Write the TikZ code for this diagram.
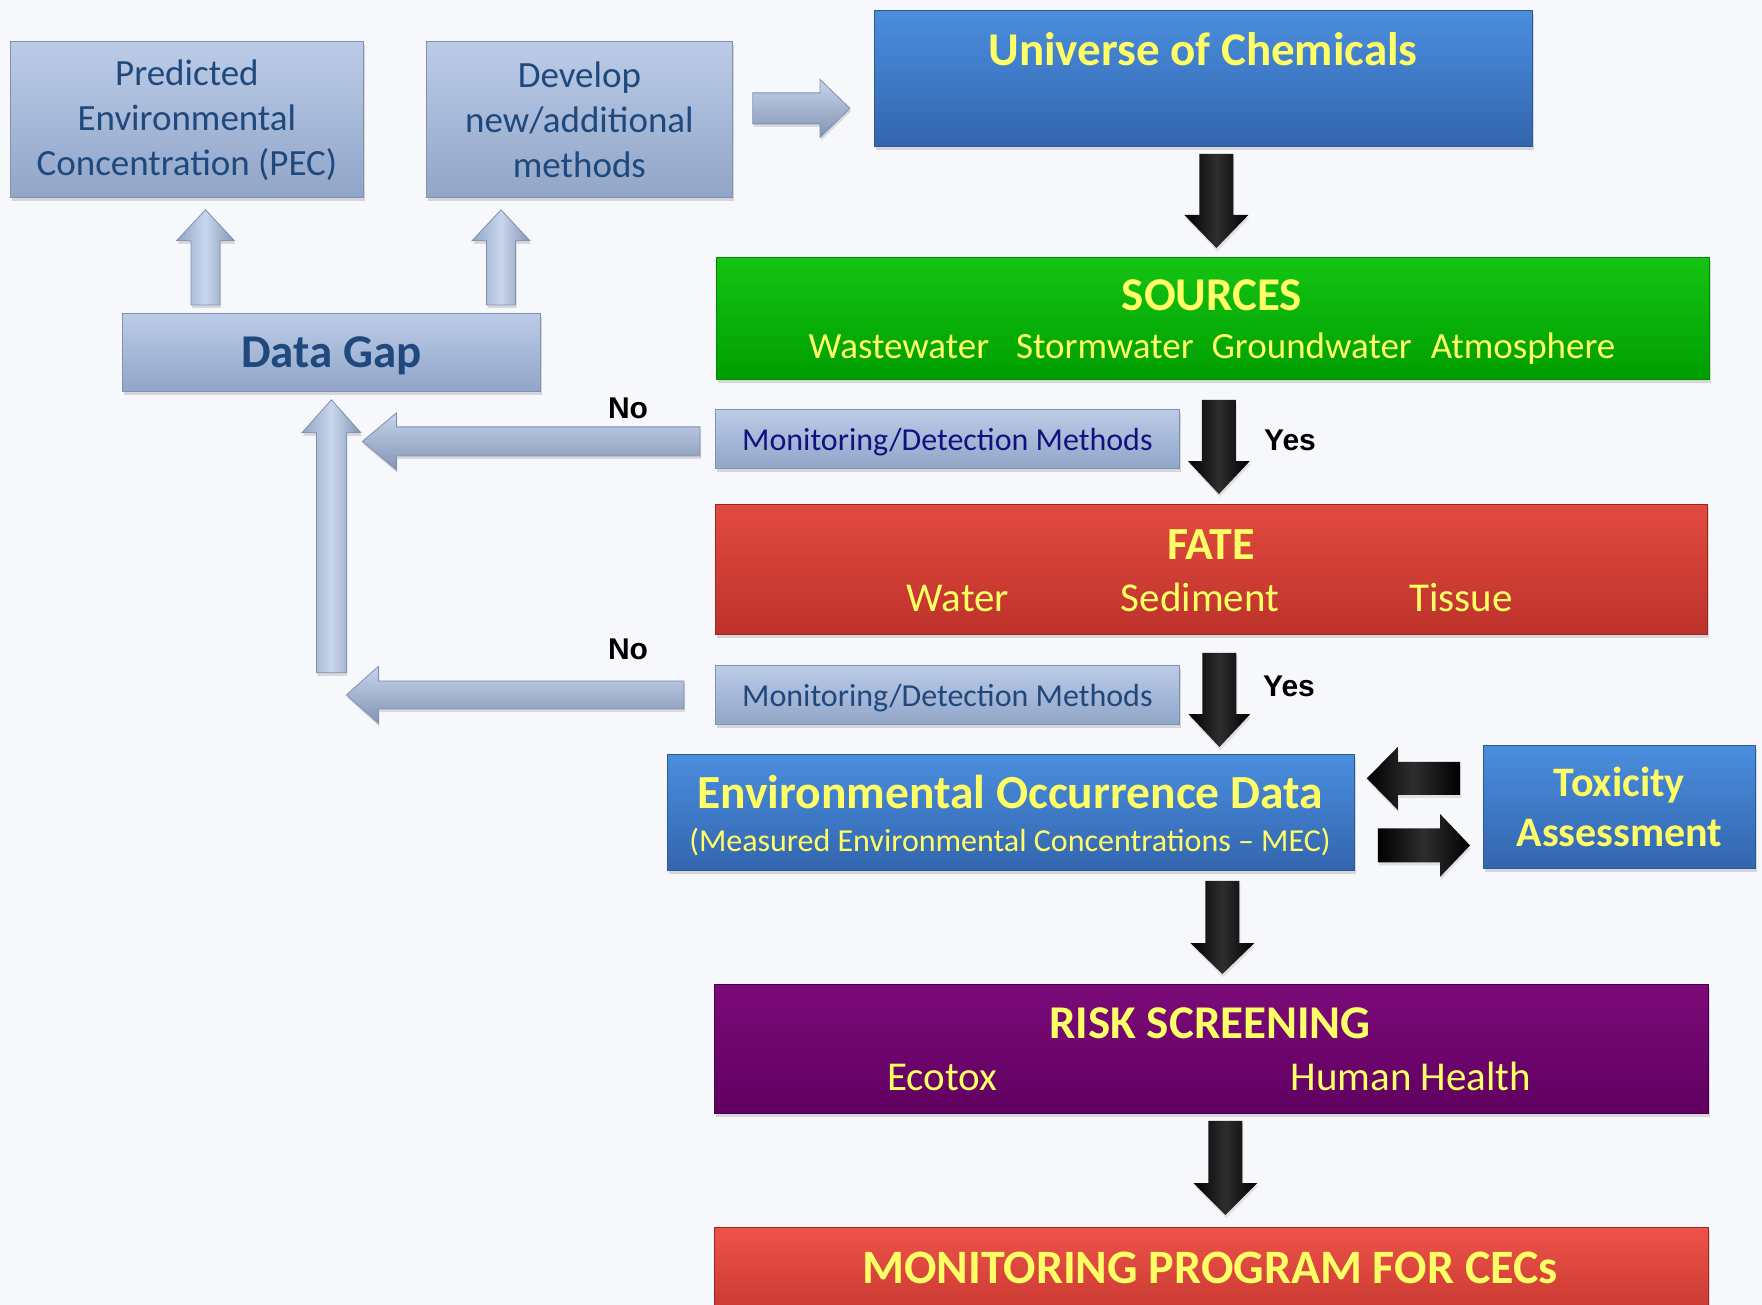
\documentclass[tikz,border=0pt]{standalone}
\usepackage{fontspec}
\setmainfont{Carlito}
\newfontfamily\yesfont{Liberation Sans}
\usetikzlibrary{calc,shadows}
\definecolor{bgcol}{HTML}{F7F8FC}
\definecolor{graytop}{HTML}{BCCCE8}
\definecolor{graybot}{HTML}{91A5C8}
\definecolor{grayedge}{HTML}{7F90B0}
\definecolor{gtext}{HTML}{1F497D}
\definecolor{navytext}{HTML}{12127F}
\definecolor{bluetop}{HTML}{4A8EDE}
\definecolor{bluebot}{HTML}{3365AE}
\definecolor{blueedge}{HTML}{2D5A96}
\definecolor{greentop}{HTML}{14C414}
\definecolor{greenbot}{HTML}{009E00}
\definecolor{greenedge}{HTML}{008A00}
\definecolor{redtop}{HTML}{E14B3F}
\definecolor{redbot}{HTML}{BD322B}
\definecolor{rededge}{HTML}{9E2620}
\definecolor{red2top}{HTML}{EE5349}
\definecolor{purptop}{HTML}{7C0A79}
\definecolor{purpbot}{HTML}{600060}
\definecolor{purpedge}{HTML}{4C004A}
\definecolor{ytext}{HTML}{FFFF66}
\newcommand\barrowD[6]{\path[#1] let \p1=(#2), \p2=(#3) in (\x1-#4pt,\y1) -- (\x1+#4pt,\y1) -- (\x1+#4pt,\y2+#6pt) -- (\x1+#5pt,\y2+#6pt) -- (\x1,\y2) -- (\x1-#5pt,\y2+#6pt) -- (\x1-#4pt,\y2+#6pt) -- cycle;}
\newcommand\barrowU[6]{\path[#1] let \p1=(#2), \p2=(#3) in (\x1-#4pt,\y1) -- (\x1+#4pt,\y1) -- (\x1+#4pt,\y2-#6pt) -- (\x1+#5pt,\y2-#6pt) -- (\x1,\y2) -- (\x1-#5pt,\y2-#6pt) -- (\x1-#4pt,\y2-#6pt) -- cycle;}
\newcommand\barrowR[6]{\path[#1] let \p1=(#2), \p2=(#3) in (\x1,\y1-#4pt) -- (\x2-#6pt,\y1-#4pt) -- (\x2-#6pt,\y1-#5pt) -- (\x2,\y1) -- (\x2-#6pt,\y1+#5pt) -- (\x2-#6pt,\y1+#4pt) -- (\x1,\y1+#4pt) -- cycle;}
\newcommand\barrowL[6]{\path[#1] let \p1=(#2), \p2=(#3) in (\x1,\y1-#4pt) -- (\x2+#6pt,\y1-#4pt) -- (\x2+#6pt,\y1-#5pt) -- (\x2,\y1) -- (\x2+#6pt,\y1+#5pt) -- (\x2+#6pt,\y1+#4pt) -- (\x1,\y1+#4pt) -- cycle;}
\tikzset{
  box/.style={rectangle, anchor=north west, inner sep=0pt, line width=0.8pt,
    drop shadow={opacity=0.28, shadow xshift=1.5pt, shadow yshift=-4pt}},
  graybox/.style={box, draw=grayedge, top color=graytop, bottom color=graybot, text=gtext, align=center},
  bluebox/.style={box, draw=blueedge, top color=bluetop, bottom color=bluebot, text=ytext, align=center},
  greenbox/.style={box, draw=greenedge, top color=greentop, bottom color=greenbot},
  redbox/.style={box, draw=rededge, top color=redtop, bottom color=redbot},
  red2box/.style={box, draw=rededge, top color=red2top, bottom color=redbot},
  purpbox/.style={box, draw=purpedge, top color=purptop, bottom color=purpbot},
  titletxt/.style={anchor=base, text=ytext, inner sep=0pt, font=\fontsize{47}{56}\selectfont\bfseries},
  subtxt/.style={anchor=base, text=ytext, inner sep=0pt, font=\fontsize{41}{49}\selectfont},
  yesno/.style={anchor=base, inner sep=0pt, text=black, font=\yesfont\fontsize{30}{36}\selectfont\bfseries},
  grayH/.style={draw=grayedge, line width=0.8pt, top color=graytop!85!white, bottom color=graybot!90!black,
    drop shadow={opacity=0.25, shadow xshift=1pt, shadow yshift=-3pt}},
  grayV/.style={draw=grayedge, line width=0.8pt, left color=graybot, right color=graybot!90!black, middle color=graytop!80!white,
    drop shadow={opacity=0.25, shadow xshift=1pt, shadow yshift=-3pt}},
  blackarr/.style={left color=black, right color=black, middle color=black!82,
    drop shadow={opacity=0.2, shadow xshift=1pt, shadow yshift=-3pt}},
}
\begin{document}
\begin{tikzpicture}[x=1pt,y=-1pt]
\useasboundingbox (0,0) rectangle (1762,1305);
\fill[bgcol] (0,0) rectangle (1762,1305);

% gray boxes
\node[graybox, minimum width=353pt, minimum height=156pt, text depth=4pt, font=\fontsize{37}{45}\selectfont] (pec) at (10,41) {Predicted\\Environmental\\Concentration (PEC)};
\node[graybox, minimum width=306pt, minimum height=156pt, font=\fontsize{37}{45}\selectfont] (dev) at (426,41) {Develop\\new/additional\\methods};
\node[graybox, minimum width=418pt, minimum height=78pt, text depth=0pt, font=\fontsize{47}{56}\selectfont\bfseries] (gap) at (122,313) {Data Gap};
\node[graybox, minimum width=464pt, minimum height=59pt, text depth=0pt, text=navytext, font=\fontsize{32}{38}\selectfont] (mon1) at (715,409) {Monitoring/Detection Methods};
\node[graybox, minimum width=464pt, minimum height=59pt, text depth=0pt, font=\fontsize{32}{38}\selectfont] (mon2) at (715,665) {Monitoring/Detection Methods};

% coloured boxes
\node[bluebox, minimum width=658pt, minimum height=136pt] (uni) at (874,10) {};
\node[titletxt] (unit) at (1203,66) {Universe of Chemicals};

\node[greenbox, minimum width=993pt, minimum height=122pt] (src) at (716,257) {};
\node[titletxt] (srct) at (1212,311) {SOURCES};
\node[subtxt, font=\fontsize{37}{44}\selectfont] (srcs) at (1212,359) {Wastewater\hspace{27pt}Stormwater\hspace{18pt}Groundwater\hspace{19pt}Atmosphere};

\node[redbox, minimum width=992pt, minimum height=130pt] (fate) at (715,504) {};
\node[titletxt, font=\fontsize{46}{55}\selectfont\bfseries] (fatet) at (1211,559) {FATE};
\node[subtxt] (water) at (958,611) {Water};
\node[subtxt] (sed) at (1200,611) {Sediment};
\node[subtxt] (tis) at (1461,611) {Tissue};

\node[bluebox, minimum width=687pt, minimum height=116pt] (env) at (667,754) {};
\node[titletxt, font=\fontsize{47.5}{56}\selectfont\bfseries] (envt) at (1010,808) {Environmental Occurrence Data};
\node[subtxt, font=\fontsize{32}{38}\selectfont] (envs) at (1010,851) {(Measured Environmental Concentrations – MEC)};

\node[bluebox, minimum width=272pt, minimum height=123pt, font=\fontsize{42}{50}\selectfont\bfseries] (tox) at (1483,745) {Toxicity\\Assessment};

\node[purpbox, minimum width=994pt, minimum height=129pt] (risk) at (714,984) {};
\node[titletxt] (riskt) at (1210,1038) {RISK SCREENING};
\node[subtxt] (eco) at (942,1090) {Ecotox};
\node[subtxt] (hh) at (1411,1090) {Human Health};

\node[red2box, minimum width=994pt, minimum height=110pt] (mon) at (714,1227) {};
\node[titletxt, font=\fontsize{48}{56}\selectfont\bfseries] (mont) at (1210,1283) {MONITORING PROGRAM FOR CECs};

% labels
\node[yesno] (no1) at (628,419) {No};
\node[yesno] (no2) at (628,659) {No};
\node[yesno] (yes1) at (1290,450) {Yes};
\node[yesno] (yes2) at (1289,696) {Yes};

% gray arrows
\barrowR{grayH}{$(dev.east)+(20,-11)$}{$(uni.west)+(-24,0)$}{15.5}{29}{30}
\barrowU{grayV}{$(gap.north west)+(83.5,-8)$}{$(pec.south)+(0,12)$}{14.5}{29}{31}
\barrowU{grayV}{$(gap.north west)+(379,-8)$}{$(dev.south)+(0,12)$}{14.5}{29}{31}
\barrowU{grayV}{$(gap.south)+(0,281)$}{$(gap.south)+(0,8)$}{15}{29.5}{33}
\barrowL{grayH}{$(mon1.west)+(-15,2.5)$}{$(gap.south)+(31,0)$}{14.5}{28.5}{34}
\barrowL{grayH}{$(mon2.west)+(-31,0)$}{$(gap.south)+(15,0)$}{14}{28.5}{32}

% black arrows
\barrowD{blackarr}{$(uni.south)+(13,7)$}{$(src.north)+(4,-9)$}{17}{32}{33}
\barrowD{blackarr}{$(src.south)+(6,20)$}{$(fate.north)+(0,-10)$}{17}{31}{33}
\barrowD{blackarr}{$(fate.south)+(8,18)$}{$(env.north)+(0,-7)$}{17}{31}{33}
\barrowD{blackarr}{$(env.south)+(211.5,10)$}{$(risk.north)+(0,-10)$}{17}{32}{31}
\barrowD{blackarr}{$(risk.south)+(14,7)$}{$(mon.north)+(0,-12)$}{17}{32}{32}
\barrowL{blackarr}{$(tox.west)+(-23,-28.5)$}{$(env.east)+(12,0)$}{16.5}{31.5}{31}
\barrowR{blackarr}{$(env.east)+(23,33)$}{$(tox.west)+(-13,0)$}{17}{31.5}{30}
\end{tikzpicture}
\end{document}
